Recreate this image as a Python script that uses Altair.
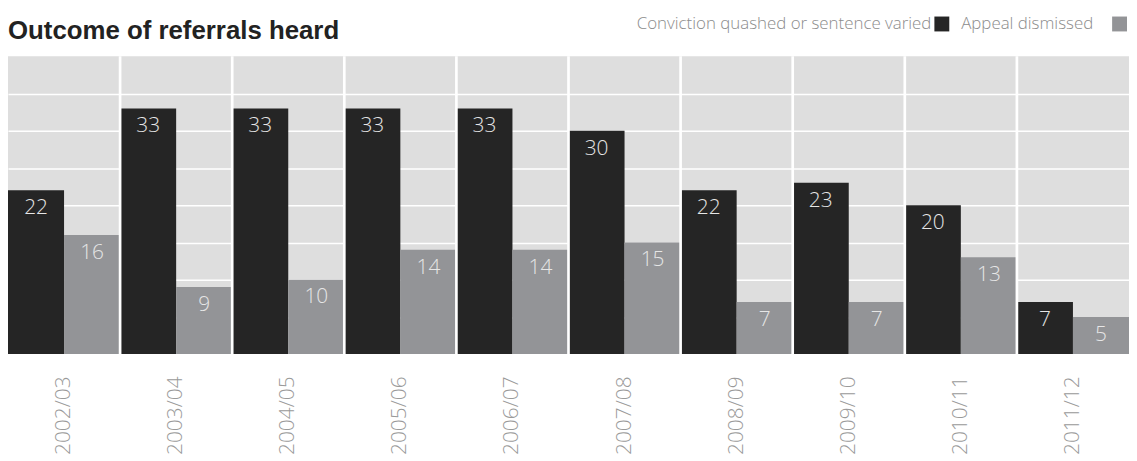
import altair as alt
import pandas as pd

# ---- data ----
years = ["2002/03", "2003/04", "2004/05", "2005/06", "2006/07",
         "2007/08", "2008/09", "2009/10", "2010/11", "2011/12"]
series = ["Conviction  quashed or sentence varied", "Appeal dismissed"]
quashed = [22, 33, 33, 33, 33, 30, 22, 23, 20, 7]
dismissed = [16, 9, 10, 14, 14, 15, 7, 7, 13, 5]
colors = ["#252525", "#939497"]
title_text = "Outcome of referrals heard"
grid_values = [5, 10, 15, 20, 25, 30, 35]

rows = []
for i, yr in enumerate(years):
    rows.append({"year": yr, "series": series[0], "value": quashed[i]})
    rows.append({"year": yr, "series": series[1], "value": dismissed[i]})
df = pd.DataFrame(rows)

FONT = "Open Sans"

x_axis = alt.Axis(title=None, labelAngle=-90, labelFontSize=21, labelFont=FONT,
                  labelFontWeight=300, labelColor="#9a9a9a", labelPadding=22,
                  ticks=False, domain=False, grid=False)
x_scale = alt.Scale(paddingInner=0, paddingOuter=0)
x_enc = alt.X("year:N", sort=years, scale=x_scale, axis=x_axis)
xo_enc = alt.XOffset("series:N", sort=series,
                     scale=alt.Scale(paddingInner=0, paddingOuter=0))
y_enc = alt.Y(
    "value:Q",
    scale=alt.Scale(domain=[0, 40], nice=False, zero=True),
    axis=alt.Axis(title=None, labels=False, ticks=False, domain=False, grid=True,
                  gridColor="white", gridWidth=1.5, values=grid_values),
)
color_enc = alt.Color("series:N", scale=alt.Scale(domain=series, range=colors), legend=None)

bars = alt.Chart(df).mark_bar().encode(x=x_enc, xOffset=xo_enc, y=y_enc, color=color_enc)

labels = alt.Chart(df).mark_text(
    baseline="alphabetic", dy=24, fontSize=21, font=FONT, fontWeight=300, color="#e6e6e6"
).encode(x=x_enc, xOffset=xo_enc, y=y_enc, text="value:Q")

sep = alt.Chart(pd.DataFrame({"year": years[1:]})).mark_rule(
    color="white", strokeWidth=2.7
).encode(
    x=alt.X("year:N", sort=years, bandPosition=0, scale=x_scale, axis=x_axis),
    y=alt.value(0), y2=alt.value(302),
)

one = pd.DataFrame({"k": [0]})

title = alt.Chart(one).mark_text(
    align="left", baseline="alphabetic", fontSize=26, fontWeight="bold",
    font="Liberation Sans", color="#222222"
).encode(x=alt.value(0), y=alt.value(-17), text=alt.value(title_text))

leg_t1 = alt.Chart(one).mark_text(
    align="right", baseline="alphabetic", fontSize=17, font=FONT, fontWeight=300, color="#8c8c8c"
).encode(x=alt.value(930), y=alt.value(-27), text=alt.value(series[0]))
leg_s1 = alt.Chart(one).mark_rect().encode(
    x=alt.value(933), x2=alt.value(948), y=alt.value(-40), y2=alt.value(-25),
    color=alt.value(colors[0]))
leg_t2 = alt.Chart(one).mark_text(
    align="left", baseline="alphabetic", fontSize=17, font=FONT, fontWeight=300, color="#8c8c8c"
).encode(x=alt.value(960), y=alt.value(-27), text=alt.value(series[1]))
leg_s2 = alt.Chart(one).mark_rect().encode(
    x=alt.value(1112), x2=alt.value(1127), y=alt.value(-40), y2=alt.value(-25),
    color=alt.value(colors[1]))

chart = alt.layer(bars, sep, labels, title, leg_t1, leg_s1, leg_t2, leg_s2).properties(
    width=1129, height=300,
    autosize=alt.AutoSizeParams(type="none"),
    padding={"left": 0, "top": 47, "right": 0, "bottom": 100},
).configure_view(fill="#dedede", strokeWidth=0)

chart.save("out.html", embed_options={"renderer": "svg", "actions": False})
